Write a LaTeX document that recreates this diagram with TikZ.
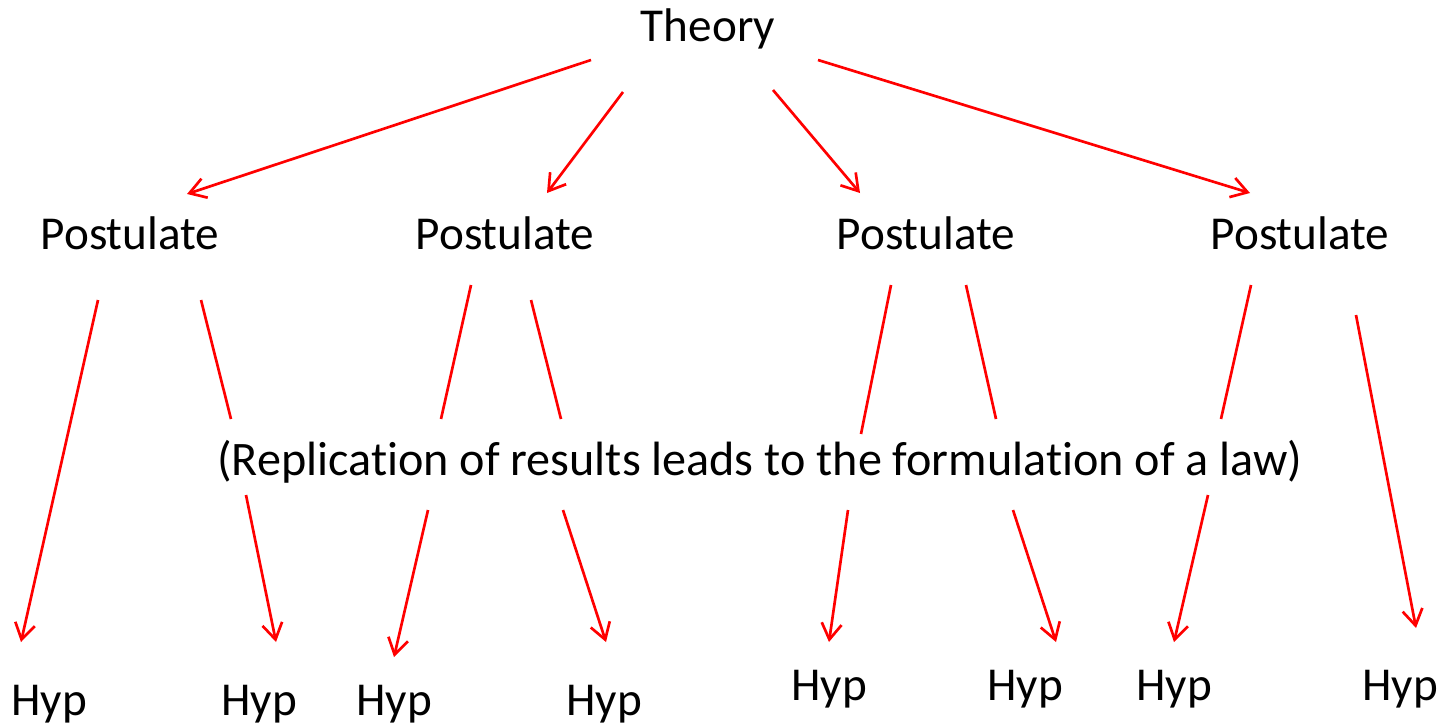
\documentclass[tikz,border=0pt]{standalone}
\usepackage{fontspec}
\setmainfont[Ligatures={NoCommon}]{Carlito}
\usetikzlibrary{arrows.meta}
\begin{document}
\begin{tikzpicture}[x=0.75pt,y=-0.75pt,
  lbl/.style={font=\fontsize{35.4}{42}\selectfont, anchor=base, inner sep=0pt},
  wide/.style={lbl, font=\fontsize{36.1}{42}\selectfont},
  link/.style={red, line width=2pt},
  arr/.style={link, -{Straight Barb[length=12pt,width=15pt,line width=2pt]}}]
\useasboundingbox (0,0) rectangle (1443,726);
% texts
\node[lbl] (th) at (708,41) {Theory};
\node[lbl] (p1) at (130,249) {Postulate};
\node[lbl] (p2) at (505,249) {Postulate};
\node[lbl] (p3) at (926,249) {Postulate};
\node[lbl] (p4) at (1300,249) {Postulate};
\node[wide] (law) at (760,475) {(Replication of results leads to the formulation of a law)};
\node[lbl] (h1) at (49,715) {Hyp};
\node[lbl] (h2) at (259,715) {Hyp};
\node[lbl] (h3) at (394,715) {Hyp};
\node[lbl] (h4) at (604,715) {Hyp};
\node[lbl] (h5) at (829,700) {Hyp};
\node[lbl] (h6) at (1025,700) {Hyp};
\node[lbl] (h7) at (1174,700) {Hyp};
\node[lbl] (h8) at (1400,700) {Hyp};
% connector end points
\coordinate (t1) at (591,60);   \coordinate (t1e) at (187,194);
\coordinate (t2) at (623,92);   \coordinate (t2e) at (547,193);
\coordinate (t3) at (773,90);   \coordinate (t3e) at (860,193);
\coordinate (t4) at (818,60);   \coordinate (t4e) at (1250,193);
% theory to postulates
\draw[arr] (t1) -- (t1e);
\draw[arr] (t2) -- (t2e);
\draw[arr] (t3) -- (t3e);
\draw[arr] (t4) -- (t4e);
% postulate 1
\coordinate (a1) at (98,300);  \coordinate (a1e) at (21,642);
\draw[arr] (a1) -- (a1e);
\coordinate (b1) at (201,300); \coordinate (b1m) at (231,419);
\coordinate (b2) at (246,495); \coordinate (b2e) at (276,642);
\draw[link] (b1) -- (b1m);
\draw[arr] (b2) -- (b2e);
% postulate 2
\coordinate (c1) at (471,285); \coordinate (c1m) at (441,419);
\coordinate (c2) at (428,510); \coordinate (c2e) at (394,657);
\draw[link] (c1) -- (c1m);
\draw[arr] (c2) -- (c2e);
\coordinate (d1) at (531,300); \coordinate (d1m) at (561,419);
\coordinate (d2) at (563,510); \coordinate (d2e) at (606,642);
\draw[link] (d1) -- (d1m);
\draw[arr] (d2) -- (d2e);
% postulate 3
\coordinate (e1) at (891,285); \coordinate (e1m) at (861,434);
\coordinate (e2) at (848,510); \coordinate (e2e) at (829,642);
\draw[link] (e1) -- (e1m);
\draw[arr] (e2) -- (e2e);
\coordinate (f1) at (966,285); \coordinate (f1m) at (996,419);
\coordinate (f2) at (1013,510); \coordinate (f2e) at (1056,642);
\draw[link] (f1) -- (f1m);
\draw[arr] (f2) -- (f2e);
% postulate 4
\coordinate (g1) at (1251,285); \coordinate (g1m) at (1221,419);
\coordinate (g2) at (1208,495); \coordinate (g2e) at (1174,642);
\draw[link] (g1) -- (g1m);
\draw[arr] (g2) -- (g2e);
\coordinate (k1) at (1356,315); \coordinate (k1e) at (1416,628);
\draw[arr] (k1) -- (k1e);
\end{tikzpicture}
\end{document}
